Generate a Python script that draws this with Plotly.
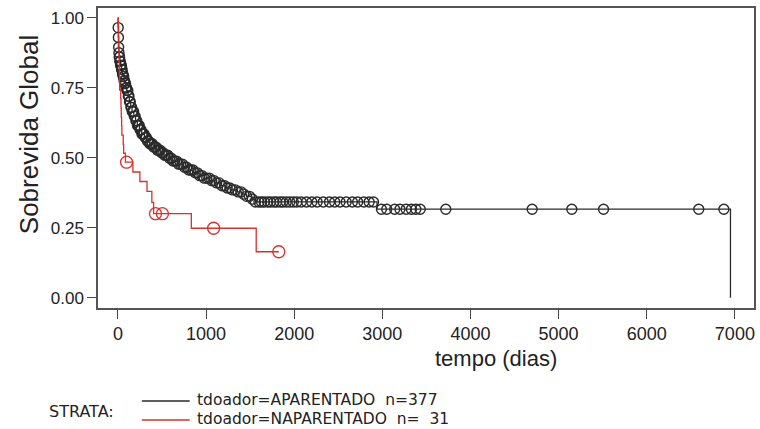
import numpy as np
import plotly.graph_objects as go

# ---------------- data ----------------
# Kaplan-Meier step curve knots, tdoador=APARENTADO (n=377)
ap_time = [0, 2, 4, 6, 10, 15, 22, 30, 40, 50, 60, 70, 80, 90, 100, 115, 130, 145, 160,
           180, 200, 220, 245, 270, 300, 330, 360, 400, 440, 480, 520, 570, 620, 680,
           740, 800, 860, 920, 980, 1040, 1100, 1160, 1220, 1280, 1340, 1400, 1460,
           1520, 1560, 2940, 6950]
ap_surv = [1.0, 0.965, 0.93, 0.895, 0.875, 0.86, 0.845, 0.83, 0.815, 0.80, 0.79, 0.775,
           0.765, 0.75, 0.74, 0.72, 0.70, 0.68, 0.665, 0.648, 0.632, 0.615, 0.60, 0.585,
           0.572, 0.56, 0.55, 0.538, 0.527, 0.518, 0.509, 0.498, 0.488, 0.477, 0.466,
           0.456, 0.446, 0.436, 0.427, 0.418, 0.41, 0.40, 0.392, 0.385, 0.378, 0.37,
           0.362, 0.352, 0.342, 0.316, 0.0]
# censoring times, APARENTADO
ap_cens = [3, 5, 8, 12, 15, 18, 22, 26, 30, 34, 38, 42, 47, 52, 56, 60, 65, 70, 75, 80,
           86, 92, 98, 105, 112, 118, 125, 132, 140, 147, 155, 163, 170, 178, 186, 195,
           204, 213, 222, 232, 242, 252, 262, 273, 285, 297, 310, 322, 335, 348, 361,
           375, 390, 404, 418, 433, 448, 463, 479, 495, 512, 530, 548, 566, 585, 605,
           625, 645, 666, 688, 710, 733, 756, 780, 804, 828, 852, 877, 902, 928, 954,
           980, 1008, 1036, 1064, 1092, 1120, 1150, 1180, 1210, 1240, 1270, 1300, 1332,
           1364, 1396, 1428, 1460, 1492, 1525, 1560, 1600, 1630, 1660, 1700, 1730, 1770,
           1800, 1840, 1870, 1910, 1950, 1990, 2030, 2080, 2140, 2200, 2260, 2330, 2400,
           2460, 2520, 2590, 2660, 2720, 2790, 2850, 2900, 2990, 3050, 3140, 3200, 3270,
           3330, 3380, 3430, 3720, 4700, 5150, 5510, 6590, 6875]

# Kaplan-Meier step curve knots, tdoador=NAPARENTADO (n=31)
nap_time = [0, 5, 8, 10, 12, 14, 16, 18, 20, 32, 35, 38, 42, 45, 60, 65, 85, 170, 249,
            330, 385, 405, 833, 1569, 1825]
nap_surv = [1.0, 0.968, 0.935, 0.903, 0.871, 0.839, 0.806, 0.774, 0.742, 0.71, 0.677,
            0.645, 0.613, 0.581, 0.548, 0.516, 0.484, 0.449, 0.415, 0.38, 0.34, 0.30,
            0.248, 0.164, 0.164]
nap_cens = [98, 426, 505, 1086, 1825]

x_ticks = [0, 1000, 2000, 3000, 4000, 5000, 6000, 7000]
y_ticks = [0.0, 0.25, 0.5, 0.75, 1.0]

legend_labels = ["tdoador=APARENTADO\u00a0\u00a0n=377",
                 "tdoador=NAPARENTADO\u00a0\u00a0n=\u00a0\u00a031"]

BLACK = "#2a2a2a"
RED = "#d9302c"
FONT = "Liberation Sans, Arial, sans-serif"
WIDEFONT = "DejaVu Sans, Liberation Sans, sans-serif"


def surv_at(times, survs, t):
    idx = np.searchsorted(np.asarray(times), np.asarray(t), side="right") - 1
    return np.asarray(survs)[idx]


fig = go.Figure()

fig.add_trace(go.Scatter(x=ap_time, y=ap_surv, mode="lines", line_shape="hv",
                         line=dict(color=BLACK, width=1.3), showlegend=False,
                         hoverinfo="skip"))
fig.add_trace(go.Scatter(x=ap_cens, y=surv_at(ap_time, ap_surv, ap_cens), mode="markers",
                         marker=dict(symbol="circle-open", size=10, color=BLACK,
                                     line=dict(width=1.4, color=BLACK)),
                         showlegend=False))
fig.add_trace(go.Scatter(x=nap_time, y=nap_surv, mode="lines", line_shape="hv",
                         line=dict(color=RED, width=1.3), showlegend=False,
                         hoverinfo="skip"))
fig.add_trace(go.Scatter(x=nap_cens, y=surv_at(nap_time, nap_surv, nap_cens), mode="markers",
                         marker=dict(symbol="circle-open", size=12, color=RED,
                                     line=dict(width=1.3, color=RED)),
                         showlegend=False))

axis_common = dict(showline=True, mirror=True, linecolor="#555555", linewidth=1.5,
                   ticks="outside", ticklen=9, tickwidth=1.2, tickcolor="#444444",
                   showgrid=False, zeroline=False)

fig.update_xaxes(range=[-226, 7217], tickvals=x_ticks,
                 ticktext=[str(v) for v in x_ticks],
                 tickfont=dict(family=FONT, size=18, color="#222222"), **axis_common)
fig.update_yaxes(range=[-0.037, 1.035], tickvals=y_ticks,
                 ticktext=["%.2f" % v for v in y_ticks],
                 tickfont=dict(family=FONT, size=17, color="#222222"), **axis_common)

W, H, L, T = 658, 300, 98, 8


def px(xp):
    return (xp - L) / W


def py(yp):
    return (T + H - yp) / H


annotations = [
    dict(text="Sobrevida Global", xref="paper", yref="paper", x=px(29), y=py(135),
         xanchor="center", yanchor="middle", textangle=-90, showarrow=False,
         font=dict(family=FONT, size=26, color="#222222")),
    dict(text="tempo (dias)", xref="paper", yref="paper", x=px(497),
         y=py(358), xanchor="center", yanchor="middle", showarrow=False,
         font=dict(family=FONT, size=22, color="#222222")),
    dict(text="STRATA:", xref="paper", yref="paper", x=px(47),
         y=py(411), xanchor="left", yanchor="middle", showarrow=False,
         font=dict(family=WIDEFONT, size=16, color="#222222")),
]
shapes = []
for i, (lab, col) in enumerate(zip(legend_labels, [BLACK, RED])):
    ytext = 400 + 19 * i
    annotations.append(dict(text=lab, xref="paper", yref="paper", x=px(195),
                            y=py(ytext), xanchor="left", yanchor="middle", showarrow=False,
                            font=dict(family=WIDEFONT, size=15.5, color="#222222")))
    shapes.append(dict(type="line", xref="paper", yref="paper", x0=px(142),
                       x1=px(190), y0=py(ytext + 1), y1=py(ytext + 1),
                       line=dict(color=col, width=1.5)))

fig.update_layout(width=760, height=429, margin=dict(l=L, r=760 - L - W, t=T, b=429 - T - H),
                  paper_bgcolor="white", plot_bgcolor="white",
                  annotations=annotations, shapes=shapes, showlegend=False)

fig.write_html("out.html")
